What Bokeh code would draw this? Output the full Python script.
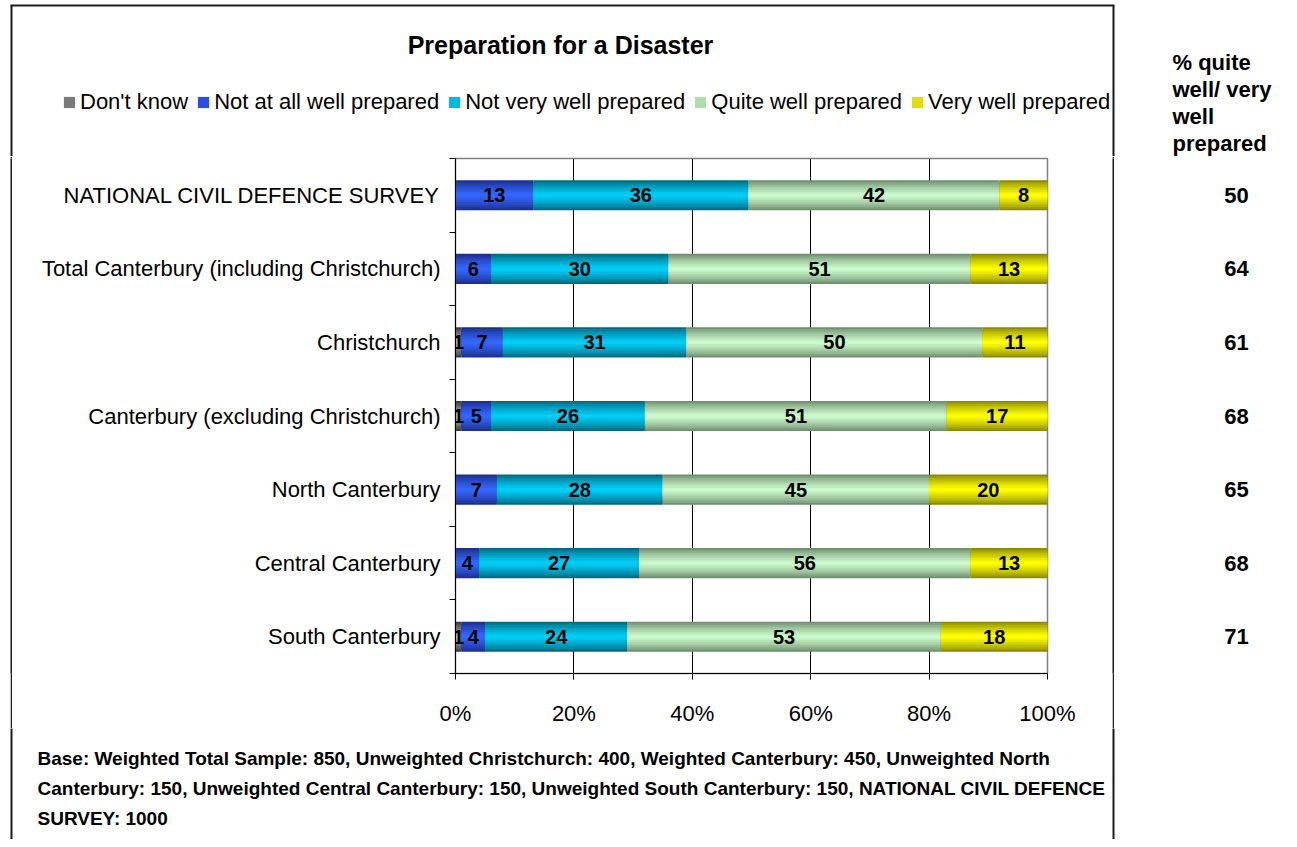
from bokeh.plotting import figure
from bokeh.layouts import column, row
from bokeh.models import (Range1d, FixedTicker, PrintfTickFormatter, Legend, LegendItem,
                          ColumnDataSource)
from bokeh.core.properties import value
from bokeh.embed import file_html
from bokeh.resources import INLINE

# ---------------- data ----------------
categories = [
    "NATIONAL CIVIL DEFENCE SURVEY",
    "Total Canterbury (including Christchurch)",
    "Christchurch",
    "Canterbury (excluding Christchurch)",
    "North Canterbury",
    "Central Canterbury",
    "South Canterbury",
]
series_names = ["Don't know", "Not at all well prepared", "Not very well prepared",
                "Quite well prepared", "Very well prepared"]
dont_know = [0, 0, 1, 1, 0, 0, 1]
not_at_all = [13, 6, 7, 5, 7, 4, 4]
not_very = [36, 30, 31, 26, 28, 27, 24]
quite_well = [42, 51, 50, 51, 45, 56, 53]
very_well = [8, 13, 11, 17, 20, 13, 18]
pct_quite_very = [50, 64, 61, 68, 65, 68, 71]
x_ticks = [0, 20, 40, 60, 80, 100]

title_text = "Preparation for a Disaster"
side_header = ["% quite", "well/ very", "well", "prepared"]
footnote = [
    "Base: Weighted Total Sample: 850, Unweighted Christchurch: 400, Weighted Canterbury: 450, Unweighted North",
    "Canterbury: 150, Unweighted Central Canterbury: 150, Unweighted South Canterbury: 150, NATIONAL CIVIL DEFENCE",
    "SURVEY: 1000",
]

# ---------------- styles / geometry ----------------
FONT = "Liberation Sans"
edge_colors = ["#3c3c3c", "#1c2f8a", "#006a80", "#6f8f70", "#8a8a00"]
mid_colors = ["#a8a8a8", "#3466ff", "#00cdf6", "#ccf9cc", "#ffff00"]
legend_colors = ["#7a7a7a", "#2a4fe0", "#00b8e0", "#b0dcb0", "#e0e000"]
BOX_COLOR = "#1a1a1a"
BOX_W = 2
BAR_H = 0.41
LAYERS = 9

TOTAL_W = 1289
TOP_H = 156
MID_H = 572
BOT_H = 111
PAD_W = 10
LINE_W = 2
MAIN_W = 1100
SIDE_W = TOTAL_W - PAD_W - 2 * LINE_W - MAIN_W
FRAME_LEFT = 443          # inside main figure
FRAME_W = 592
FRAME_TOP = 2
FRAME_H = 515
FRAME_BOTTOM = MID_H - FRAME_TOP - FRAME_H
BOX_LEFT = 11
BOX_RIGHT = 1113


def hex2rgb(h):
    h = h.lstrip("#")
    return tuple(int(h[i:i + 2], 16) for i in (0, 2, 4))


def lerp(c1, c2, t):
    a, b = hex2rgb(c1), hex2rgb(c2)
    return "#%02x%02x%02x" % tuple(int(round(a[i] + (b[i] - a[i]) * t)) for i in range(3))


def blank_fig(w, h, color="white"):
    f = figure(width=w, height=h, x_range=Range1d(0, w), y_range=Range1d(h, 0),
               output_backend="svg", toolbar_location=None,
               x_axis_location=None, y_axis_location=None, min_border=0)
    f.outline_line_color = None
    f.grid.visible = False
    f.background_fill_color = color
    f.border_fill_color = color
    return f


def txt(f, x, y, s, size, bold=False, align="left"):
    f.text(x=[x], y=[y], text=[s], text_font=value(FONT), text_font_size=value(size),
           text_font_style="bold" if bold else "normal", text_align=align,
           text_baseline="middle", text_color="black")


def vline(f, x, y0, y1):
    f.segment(x0=[x], y0=[y0], x1=[x], y1=[y1], line_color=BOX_COLOR, line_width=BOX_W)


# ---------------- main chart ----------------
n = len(categories)
ys = list(range(n))
main = figure(width=MAIN_W, height=MID_H, x_range=Range1d(0, 100), y_range=Range1d(n - 0.5, -0.5),
              output_backend="svg", toolbar_location=None,
              min_border_left=FRAME_LEFT, min_border_right=MAIN_W - FRAME_LEFT - FRAME_W,
              min_border_top=FRAME_TOP, min_border_bottom=FRAME_BOTTOM)
main.background_fill_color = "white"
main.border_fill_color = "white"
main.outline_line_color = "#808080"
main.outline_line_width = 1.5

all_series = [dont_know, not_at_all, not_very, quite_well, very_well]
totals = [sum(s[i] for s in all_series) for i in range(n)]
cum = [0.0] * n
label_x, label_y, label_t = [], [], []
for si, s in enumerate(all_series):
    left = [cum[i] / totals[i] * 100 for i in range(n)]
    right = [(cum[i] + s[i]) / totals[i] * 100 for i in range(n)]
    src = ColumnDataSource(dict(y=ys, left=left, right=right))
    for k in range(LAYERS):
        h = BAR_H * (1 - k / LAYERS)
        col = lerp(edge_colors[si], mid_colors[si], (k / (LAYERS - 1)) ** 0.8)
        main.hbar(y="y", left="left", right="right", height=h, source=src,
                  fill_color=col, line_color=None)
    for i in range(n):
        if s[i] > 0:
            label_x.append((left[i] + right[i]) / 2)
            label_y.append(i)
            label_t.append(str(s[i]))
        cum[i] += s[i]

main.text(x=label_x, y=label_y, text=label_t, text_font=value(FONT), text_font_style="bold",
          text_font_size=value("20px"), text_align="center", text_baseline="middle",
          text_color="black")

main.xgrid.ticker = FixedTicker(ticks=x_ticks)
main.xgrid.grid_line_color = "black"
main.xgrid.grid_line_width = 1
main.ygrid.grid_line_color = None

xa = main.xaxis[0]
xa.ticker = FixedTicker(ticks=x_ticks)
xa.formatter = PrintfTickFormatter(format="%d%%")
xa.major_tick_out = 6
xa.major_tick_in = 0
xa.minor_tick_out = 0
xa.minor_tick_in = 0
xa.axis_line_color = "black"
xa.major_tick_line_color = "black"
xa.major_label_text_font = FONT
xa.major_label_text_font_size = "22px"
xa.major_label_text_color = "black"
xa.major_label_standoff = 21

ya = main.yaxis[0]
ya.ticker = FixedTicker(ticks=ys, minor_ticks=[i - 0.5 for i in range(n + 1)])
ya.major_label_overrides = {i: c for i, c in enumerate(categories)}
ya.major_tick_out = 0
ya.major_tick_in = 0
ya.minor_tick_out = 6
ya.minor_tick_in = 0
ya.minor_tick_line_color = "black"
ya.axis_line_color = "black"
ya.major_label_text_font = FONT
ya.major_label_text_font_size = "22px"
ya.major_label_text_color = "black"
ya.major_label_standoff = 9

# ---------------- chart-area border strips ----------------
pad_left = blank_fig(PAD_W, MID_H)
line_left = blank_fig(LINE_W, MID_H, BOX_COLOR)
line_right = blank_fig(LINE_W, MID_H, BOX_COLOR)

# ---------------- right column: % quite well / very well ----------------
side = figure(width=SIDE_W, height=MID_H, x_range=Range1d(0, SIDE_W), y_range=main.y_range,
              output_backend="svg", toolbar_location=None,
              x_axis_location=None, y_axis_location=None,
              min_border_left=0, min_border_right=0,
              min_border_top=FRAME_TOP, min_border_bottom=FRAME_BOTTOM)
side.outline_line_color = None
side.grid.visible = False
side.border_fill_color = "white"
side.background_fill_color = "white"
side.text(x=[1236 - (PAD_W + 2 * LINE_W + MAIN_W)] * n, y=ys, text=[str(v) for v in pct_quite_very],
          text_font=value(FONT), text_font_style="bold", text_font_size=value("22px"),
          text_align="center", text_baseline="middle", text_color="black")

# ---------------- top strip: title, legend, side header ----------------
top = blank_fig(TOTAL_W, TOP_H)
top.segment(x0=[BOX_LEFT - 1], y0=[5], x1=[BOX_RIGHT + 1], y1=[5], line_color=BOX_COLOR, line_width=BOX_W)
vline(top, BOX_LEFT, 5, TOP_H + 2)
vline(top, BOX_RIGHT, 5, TOP_H + 2)
txt(top, 560, 44, title_text, "25px", bold=True, align="center")
for j, line in enumerate(side_header):
    txt(top, 1172, 62 + j * 27, line, "22px", bold=True)

dummies = [top.rect(x=[-100], y=[-100], width=[1], height=[1], fill_color=c, line_color=None)
           for c in legend_colors]
legend = Legend(items=[LegendItem(label=nm, renderers=[r]) for nm, r in zip(series_names, dummies)],
                orientation="horizontal", location=(62, 41),
                glyph_width=14, glyph_height=14, label_standoff=4, spacing=8,
                padding=0, margin=0, border_line_color=None, background_fill_alpha=0,
                label_text_font=FONT, label_text_font_size="22px", label_text_color="black")
top.add_layout(legend, "center")

# ---------------- bottom strip: footnote ----------------
bot = blank_fig(TOTAL_W, BOT_H)
vline(bot, BOX_LEFT, -2, BOT_H + 5)
vline(bot, BOX_RIGHT, -2, BOT_H + 5)
for j, line in enumerate(footnote):
    txt(bot, 37, 30 + j * 30, line, "19px", bold=True)

layout = column(top, row(pad_left, line_left, main, line_right, side, spacing=0), bot, spacing=0)
open("out.html", "w").write(file_html(layout, INLINE))
